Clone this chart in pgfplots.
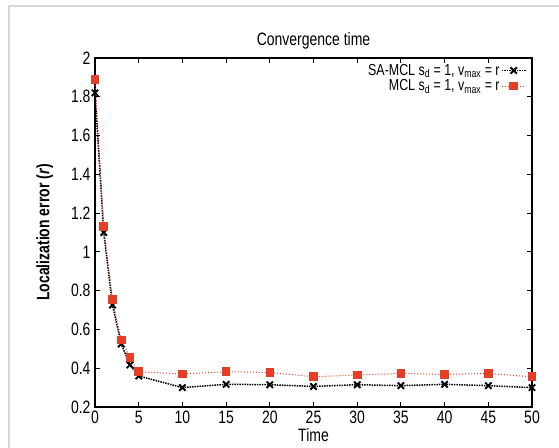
\documentclass[border=0pt]{standalone}
\usepackage{fontspec}
\newfontfamily\chartfont{Liberation Sans}[FakeStretch=0.78]
\newfontfamily\chartfontb{Liberation Sans Bold}[FakeStretch=0.78]
\usepackage{pgfplots}
\pgfplotsset{compat=1.18}
\definecolor{mclred}{RGB}{228,62,38}
\definecolor{framegray}{RGB}{215,215,215}
\newcommand{\cf}{\chartfont\fontsize{18}{20}\selectfont}
\begin{document}
\begin{tikzpicture}[x=1bp,y=1bp]
\path[use as bounding box] (0,0) rectangle (559,448);
\draw[line width=2.2bp, framegray] (9,-20) -- (9,442) -- (600,442);
\begin{axis}[
  at={(95bp,41bp)}, anchor=south west,
  scale only axis, width=437bp, height=349bp,
  xmin=0, xmax=50, ymin=0.2, ymax=2,
  xtick={0,5,...,50},
  ytick={0.2,0.4,0.6,0.8,1,1.2,1.4,1.6,1.8,2},
  tick align=inside, tick pos=both,
  major tick length=5bp,
  axis line style={line width=1.3bp},
  every tick/.style={black, line width=1bp},
  /pgf/number format/assume math mode=true,
  ticklabel style={font=\cf},
  xticklabel style={yshift=-3bp, inner sep=1bp},
  yticklabel style={xshift=-1bp},
  title={Convergence time},
  title style={font=\cf, at={(0.5,1)}, anchor=south, yshift=-1bp},
  xlabel={Time},
  xlabel style={font=\cf, inner sep=0bp, yshift=-3bp},
  ylabel={Localization error (\textit{r})},
  ylabel style={font=\chartfontb\fontsize{18}{20}\selectfont, yshift=11bp},
  legend plot pos=right,
  legend cell align=right,
  legend image code/.code={
    \draw[mark repeat=2,mark phase=2] plot coordinates {(0cm,0cm) (0.42cm,0cm) (0.84cm,0cm)};},
  legend style={at={(rel axis cs:0.99,0.99)}, anchor=north east, draw=none, fill=none,
    font=\chartfont\fontsize{16}{17}\selectfont, row sep=0bp, inner sep=1bp,
    nodes={inner sep=1.5bp}},
]
\addplot[black, densely dotted, line width=1.5bp, mark=x, mark size=4.5bp,
  mark options={solid, line width=1.9bp}] coordinates {
 (0,1.82) (1,1.10) (2,0.726) (3,0.525) (4,0.417) (5,0.36) (10,0.30) (15,0.317)
 (20,0.315) (25,0.306) (30,0.315) (35,0.31) (40,0.317) (45,0.31) (50,0.30)};
\addlegendentry{SA-MCL s\textsubscript{d} = 1, v\textsubscript{max} = r}
\addplot[mclred, dotted, line width=1bp, mark=square*, mark size=3.8bp,
  mark options={solid}] coordinates {
 (0,1.89) (1,1.13) (2,0.755) (3,0.545) (4,0.456) (5,0.382) (10,0.37) (15,0.382)
 (20,0.378) (25,0.356) (30,0.365) (35,0.373) (40,0.368) (45,0.373) (50,0.356)};
\addlegendentry{MCL s\textsubscript{d} = 1, v\textsubscript{max} = r}
\end{axis}
\end{tikzpicture}
\end{document}
